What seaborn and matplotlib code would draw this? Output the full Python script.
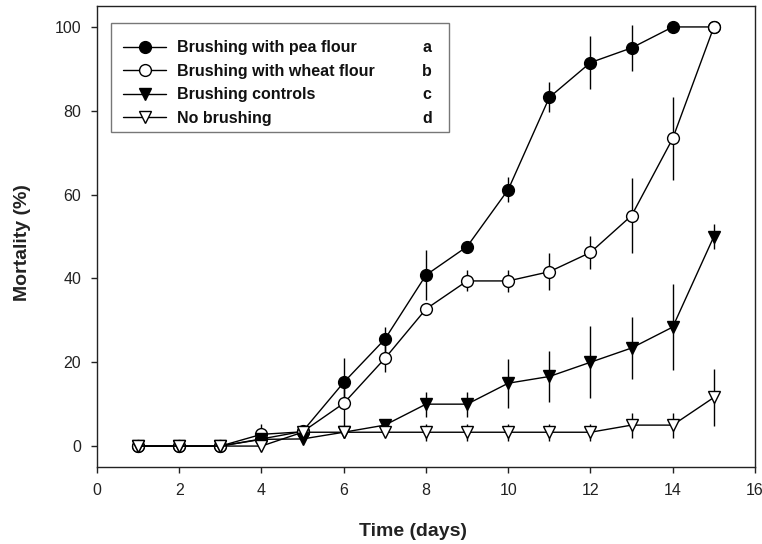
import numpy as np
import pandas as pd
import matplotlib
matplotlib.use("Agg")
import matplotlib.pyplot as plt
from matplotlib.patches import Rectangle
import seaborn as sns

# === 1. Data ===
days = [1, 2, 3, 4, 5, 6, 7, 8, 9, 10, 11, 12, 13, 14, 15]

pea = [0, 0, 0, 1.7, 3.5, 15.2, 25.5, 40.8, 47.6, 61.2, 83.2, 91.5, 95.0, 100, 100]
pea_err = [0, 0, 0, 0, 0.5, 5.7, 3.0, 6.0, 1.0, 3.0, 3.6, 6.4, 5.4, 0, 0]

wheat = [0, 0, 0, 2.8, 3.4, 10.2, 20.9, 32.7, 39.4, 39.4, 41.6, 46.2, 55.0, 73.4, 100]
wheat_err = [0, 0, 0, 2.5, 0.5, 6.6, 3.3, 1.0, 2.5, 2.6, 4.4, 4.0, 9.0, 10.0, 0]

ctrl = [0, 0, 0, 1.6, 1.7, 3.3, 5.0, 10.0, 10.0, 15.0, 16.6, 20.0, 23.4, 28.4, 50.0]
ctrl_err = [0, 0, 0, 0, 0, 0, 0, 3.0, 3.0, 5.8, 6.0, 8.6, 7.4, 10.2, 3.0]

nobr = [0, 0, 0, 0, 3.3, 3.3, 3.3, 3.3, 3.3, 3.3, 3.3, 3.3, 5.0, 5.0, 11.6]
nobr_err = [0, 0, 0, 0, 0, 0, 0, 2.0, 2.0, 2.0, 2.0, 2.0, 3.0, 3.0, 6.8]

labels = ["Brushing with pea flour", "Brushing with wheat flour",
          "Brushing controls", "No brushing"]
letters = ["a", "b", "c", "d"]

# === 2. Style ===
sns.set_style("ticks")
plt.rcParams['font.family'] = ['Liberation Sans', 'DejaVu Sans']

fig = plt.figure(figsize=(7.62, 5.44), dpi=100)
ax = fig.add_axes([0.1273, 0.1415, 0.8635, 0.8475])

series = [
    (pea, pea_err, "o", "black", 8.5),
    (wheat, wheat_err, "o", "white", 8.5),
    (ctrl, ctrl_err, "v", "black", 9),
    (nobr, nobr_err, "v", "white", 9),
]

for i, (vals, err, mk, fc, ms) in enumerate(series):
    df = pd.DataFrame({"day": days, "mort": vals, "err": err})
    # error bars (no caps), drawn beneath the markers
    e = df[df["err"] > 0]
    ax.vlines(e["day"], e["mort"] - e["err"], e["mort"] + e["err"],
              color="black", linewidth=1.0, zorder=2 + i * 0.1)
    sns.lineplot(data=df, x="day", y="mort", ax=ax, color="black", linewidth=1.0,
                 marker=mk, markersize=ms, markerfacecolor=fc,
                 markeredgecolor="black", markeredgewidth=1.0,
                 zorder=3 + i * 0.1, label=labels[i])

# === 3. Axes ===
ax.set_xlim(0, 16)
ax.set_ylim(-5, 105)
ax.set_xticks(np.arange(0, 17, 2))
ax.set_yticks(np.arange(0, 101, 20))
ax.tick_params(labelsize=11.5, length=4.5, width=1, pad=7, direction="out",
               colors="#222222")
for s in ax.spines.values():
    s.set_linewidth(1.0)
    s.set_color("#222222")
    s.set_visible(True)

ax.set_xlabel("Time (days)", fontsize=14, fontweight="bold", color="#222222")
ax.set_ylabel("Mortality (%)", fontsize=14, fontweight="bold", color="#222222")
ax.xaxis.label.set_va("center")
ax.yaxis.label.set_va("center")
ax.yaxis.label.set_ha("center")
ax.xaxis.set_label_coords(0.48, -0.139)
ax.yaxis.set_label_coords(-0.1125, 0.487)

# === 4. Legend with significance letters ===
leg = ax.legend(loc="upper left", bbox_to_anchor=(0.0395, 0.926), frameon=False,
                prop={"weight": "bold", "size": 11.5},
                handlelength=2.7, handletextpad=0.7, labelspacing=0.54,
                borderpad=0, borderaxespad=0)
for text in leg.get_texts():
    text.set_color("#111111")

ax.add_patch(Rectangle((0.0208, 0.7273), 0.5142, 0.2365, transform=ax.transAxes,
                       facecolor="none", edgecolor="#777777", linewidth=1.0,
                       zorder=5))

fig.canvas.draw()
renderer = fig.canvas.get_renderer()
inv = ax.transAxes.inverted()
for txt, letter in zip(leg.get_texts(), letters):
    bb = txt.get_window_extent(renderer)
    y_ax = inv.transform((0, (bb.y0 + bb.y1) / 2))[1]
    ax.text(0.494, y_ax, letter, transform=ax.transAxes, fontsize=11.5,
            fontweight="bold", va="center", ha="left", color="#111111")

fig.savefig("out.png", dpi=100)
